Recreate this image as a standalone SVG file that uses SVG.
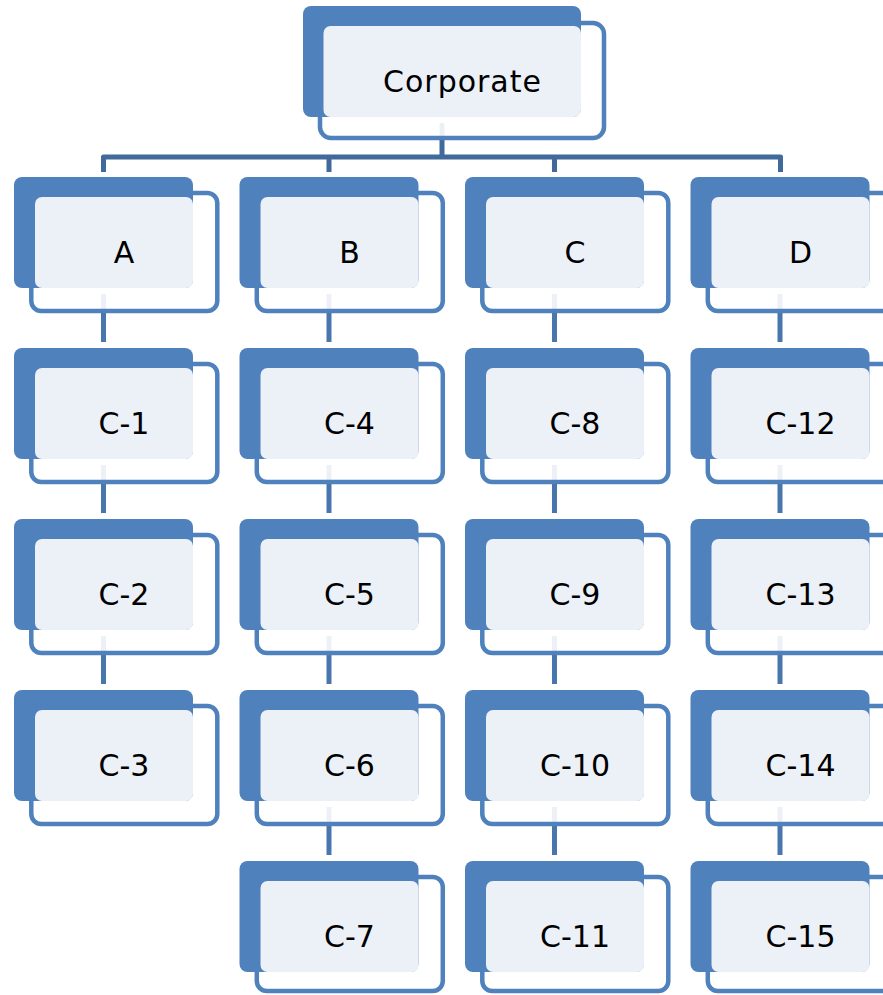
<svg xmlns="http://www.w3.org/2000/svg" width="883" height="995" viewBox="0 0 883 995">
<style>
.bk{fill:#4F81BD}
.ol{fill:#FFFFFF;fill-opacity:0.9;stroke:#4F81BD;stroke-width:4.5}
.lt{fill:#ECF0F7}
.tx{font-family:"DejaVu Sans","Liberation Sans",sans-serif;font-size:30px;fill:#000;text-anchor:middle}
.bus{fill:none;stroke:#41699C;stroke-width:5;stroke-linejoin:round}
.vc{fill:none;stroke:#4A76AE;stroke-width:5}
</style>
<rect width="883" height="995" fill="#FFFFFF"/>
<g id="connectors">
<path class="bus" d="M442,123 V157 M103.5,172 V157 H780.5 V172 M329,157 V172 M554.5,157 V172"/>
<path class="vc" d="M103.5,294 V342 M103.5,465 V513 M103.5,636 V684"/>
<path class="vc" d="M329,294 V342 M329,465 V513 M329,636 V684 M329,807 V855"/>
<path class="vc" d="M554.5,294 V342 M554.5,465 V513 M554.5,636 V684 M554.5,807 V855"/>
<path class="vc" d="M780,294 V342 M780,465 V513 M780,636 V684 M780,807 V855"/>
</g>
<g id="corporate">
<rect class="ol" x="320" y="23" width="284" height="115" rx="11"/>
<rect class="bk" x="303" y="6" width="278" height="111" rx="8"/>
<rect class="lt" x="323.5" y="26" width="257.5" height="91" rx="7"/>
<text class="tx" x="462.5" y="92" letter-spacing="1">Corporate</text>
</g>
<g id="A">
<rect class="ol" x="31.3" y="193" width="186" height="118" rx="10"/>
<rect class="bk" x="14" y="177" width="179" height="111" rx="8"/>
<rect class="lt" x="35" y="197" width="158" height="91" rx="7"/>
<text class="tx" x="124" y="263">A</text>
</g>
<g id="B">
<rect class="ol" x="256.8" y="193" width="186" height="118" rx="10"/>
<rect class="bk" x="239.5" y="177" width="179" height="111" rx="8"/>
<rect class="lt" x="260.5" y="197" width="158" height="91" rx="7"/>
<text class="tx" x="349.5" y="263">B</text>
</g>
<g id="C">
<rect class="ol" x="482.3" y="193" width="186" height="118" rx="10"/>
<rect class="bk" x="465" y="177" width="179" height="111" rx="8"/>
<rect class="lt" x="486" y="197" width="158" height="91" rx="7"/>
<text class="tx" x="575" y="263">C</text>
</g>
<g id="D">
<rect class="ol" x="707.8" y="193" width="186" height="118" rx="10"/>
<rect class="bk" x="690.5" y="177" width="179" height="111" rx="8"/>
<rect class="lt" x="711.5" y="197" width="158" height="91" rx="7"/>
<text class="tx" x="800.5" y="263">D</text>
</g>
<g id="C-1">
<rect class="ol" x="31.3" y="364" width="186" height="118" rx="10"/>
<rect class="bk" x="14" y="348" width="179" height="111" rx="8"/>
<rect class="lt" x="35" y="368" width="158" height="91" rx="7"/>
<text class="tx" x="124" y="434">C-1</text>
</g>
<g id="C-2">
<rect class="ol" x="31.3" y="535" width="186" height="118" rx="10"/>
<rect class="bk" x="14" y="519" width="179" height="111" rx="8"/>
<rect class="lt" x="35" y="539" width="158" height="91" rx="7"/>
<text class="tx" x="124" y="605">C-2</text>
</g>
<g id="C-3">
<rect class="ol" x="31.3" y="706" width="186" height="118" rx="10"/>
<rect class="bk" x="14" y="690" width="179" height="111" rx="8"/>
<rect class="lt" x="35" y="710" width="158" height="91" rx="7"/>
<text class="tx" x="124" y="776">C-3</text>
</g>
<g id="C-4">
<rect class="ol" x="256.8" y="364" width="186" height="118" rx="10"/>
<rect class="bk" x="239.5" y="348" width="179" height="111" rx="8"/>
<rect class="lt" x="260.5" y="368" width="158" height="91" rx="7"/>
<text class="tx" x="349.5" y="434">C-4</text>
</g>
<g id="C-5">
<rect class="ol" x="256.8" y="535" width="186" height="118" rx="10"/>
<rect class="bk" x="239.5" y="519" width="179" height="111" rx="8"/>
<rect class="lt" x="260.5" y="539" width="158" height="91" rx="7"/>
<text class="tx" x="349.5" y="605">C-5</text>
</g>
<g id="C-6">
<rect class="ol" x="256.8" y="706" width="186" height="118" rx="10"/>
<rect class="bk" x="239.5" y="690" width="179" height="111" rx="8"/>
<rect class="lt" x="260.5" y="710" width="158" height="91" rx="7"/>
<text class="tx" x="349.5" y="776">C-6</text>
</g>
<g id="C-7">
<rect class="ol" x="256.8" y="877" width="186" height="114" rx="10"/>
<rect class="bk" x="239.5" y="861" width="179" height="111" rx="8"/>
<rect class="lt" x="260.5" y="881" width="158" height="91" rx="7"/>
<text class="tx" x="349.5" y="947">C-7</text>
</g>
<g id="C-8">
<rect class="ol" x="482.3" y="364" width="186" height="118" rx="10"/>
<rect class="bk" x="465" y="348" width="179" height="111" rx="8"/>
<rect class="lt" x="486" y="368" width="158" height="91" rx="7"/>
<text class="tx" x="575" y="434">C-8</text>
</g>
<g id="C-9">
<rect class="ol" x="482.3" y="535" width="186" height="118" rx="10"/>
<rect class="bk" x="465" y="519" width="179" height="111" rx="8"/>
<rect class="lt" x="486" y="539" width="158" height="91" rx="7"/>
<text class="tx" x="575" y="605">C-9</text>
</g>
<g id="C-10">
<rect class="ol" x="482.3" y="706" width="186" height="118" rx="10"/>
<rect class="bk" x="465" y="690" width="179" height="111" rx="8"/>
<rect class="lt" x="486" y="710" width="158" height="91" rx="7"/>
<text class="tx" x="575" y="776">C-10</text>
</g>
<g id="C-11">
<rect class="ol" x="482.3" y="877" width="186" height="114" rx="10"/>
<rect class="bk" x="465" y="861" width="179" height="111" rx="8"/>
<rect class="lt" x="486" y="881" width="158" height="91" rx="7"/>
<text class="tx" x="575" y="947">C-11</text>
</g>
<g id="C-12">
<rect class="ol" x="707.8" y="364" width="186" height="118" rx="10"/>
<rect class="bk" x="690.5" y="348" width="179" height="111" rx="8"/>
<rect class="lt" x="711.5" y="368" width="158" height="91" rx="7"/>
<text class="tx" x="800.5" y="434">C-12</text>
</g>
<g id="C-13">
<rect class="ol" x="707.8" y="535" width="186" height="118" rx="10"/>
<rect class="bk" x="690.5" y="519" width="179" height="111" rx="8"/>
<rect class="lt" x="711.5" y="539" width="158" height="91" rx="7"/>
<text class="tx" x="800.5" y="605">C-13</text>
</g>
<g id="C-14">
<rect class="ol" x="707.8" y="706" width="186" height="118" rx="10"/>
<rect class="bk" x="690.5" y="690" width="179" height="111" rx="8"/>
<rect class="lt" x="711.5" y="710" width="158" height="91" rx="7"/>
<text class="tx" x="800.5" y="776">C-14</text>
</g>
<g id="C-15">
<rect class="ol" x="707.8" y="877" width="186" height="114" rx="10"/>
<rect class="bk" x="690.5" y="861" width="179" height="111" rx="8"/>
<rect class="lt" x="711.5" y="881" width="158" height="91" rx="7"/>
<text class="tx" x="800.5" y="947">C-15</text>
</g>
</svg>
